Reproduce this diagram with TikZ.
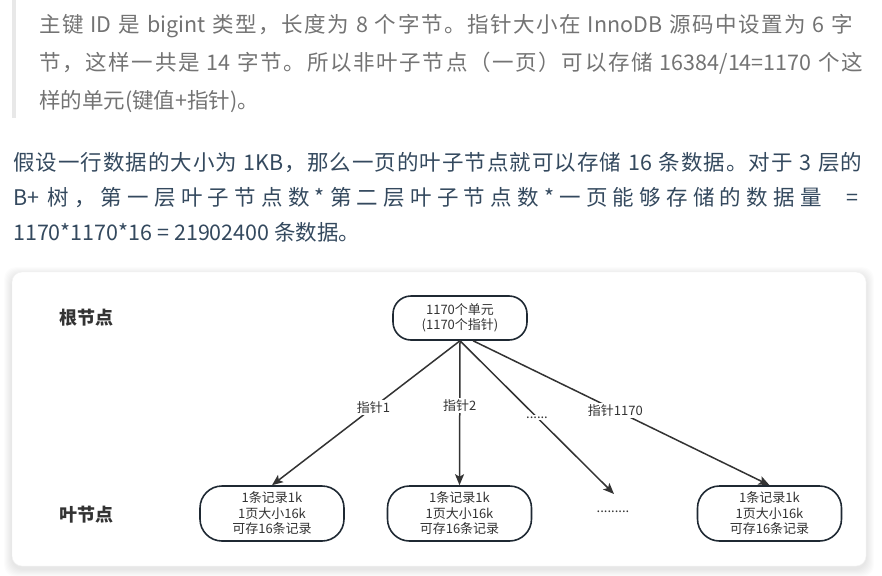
\documentclass[tikz,border=0pt]{standalone}
\usepackage{fontspec}
\setmainfont{Noto Sans CJK SC}
\usepackage{tikz}
\usetikzlibrary{arrows.meta, positioning}
\definecolor{QuoteGrey}{HTML}{737373}
\definecolor{QuoteBar}{HTML}{E8E8E8}
\definecolor{BodyInk}{HTML}{34495E}
\definecolor{LineInk}{HTML}{333333}
\definecolor{BoxInk}{HTML}{1F2933}
% stretchable glue between CJK characters, so that a row can be justified
\XeTeXinterchartokenstate=1
\newXeTeXintercharclass\cjkclass
\newcount\cjkcode
\cjkcode="4E00
\loop
  \XeTeXcharclass\cjkcode=\cjkclass
  \advance\cjkcode by 1
\ifnum\cjkcode<"9FA6 \repeat
\XeTeXcharclass"3002=\cjkclass
\XeTeXcharclass"FF0C=\cjkclass
\XeTeXcharclass"FF08=\cjkclass
\XeTeXcharclass"FF09=\cjkclass
\newcommand{\cjkglue}{\hskip 0pt plus 1pt\relax}
\XeTeXinterchartoks\cjkclass\cjkclass={\cjkglue}
\XeTeXinterchartoks 0 \cjkclass={\cjkglue}
\XeTeXinterchartoks\cjkclass 0 ={\cjkglue}
\newcommand{\textrow}[2]{\hbox to #1{\spaceskip=0.3em plus 0.3pt\relax #2}}

\begin{document}
\begin{tikzpicture}[x=1pt, y=-1pt,
    quotetext/.style={anchor=base west, inner sep=0pt, text=QuoteGrey, font=\fontsize{21.5}{21.5}\selectfont},
    bodytext/.style={anchor=base west, inner sep=0pt, text=BodyInk, font=\fontsize{21.5}{21.5}\selectfont},
    levellabel/.style={text=LineInk, font=\fontsize{18}{18}\selectfont\bfseries},
    rootbox/.style={draw=BoxInk, line width=1.6pt, rounded corners=18pt, fill=white, minimum width=134pt, minimum height=44pt, align=center, text=LineInk, inner sep=0pt, font=\fontsize{13}{15}\selectfont},
    leafbox/.style={rootbox, rounded corners=22pt, minimum width=144pt, minimum height=55pt, font=\fontsize{13}{15.5}\selectfont},
    pointer/.style={draw=LineInk, line width=1.5pt, -{Stealth[length=11pt, width=9pt, inset=2.5pt]}},
    pointerlabel/.style={fill=white, inner sep=1.5pt, text=LineInk, font=\fontsize{13}{13}\selectfont}]
    \useasboundingbox (0,0) rectangle (882,575);

    % Quoted paragraph
    \fill[QuoteBar] (12,0) rectangle (16,118);
    \node[quotetext] (q1) at (39,33) {\textrow{814pt}{主键 ID 是 bigint 类型，长度为 8 个字节。指针大小在 InnoDB 源码中设置为 6 字}};
    \node[quotetext] (q2) at (39,70.5) {\textrow{824pt}{节，这样一共是 14 字节。所以非叶子节点（一页）可以存储 16384/14=1170 个这}};
    \node[quotetext] (q3) at (39,108) {样的单元(键值+指针)。};

    % Body paragraph
    \node[bodytext] (p1) at (13,170) {\textrow{849pt}{假设一行数据的大小为 1KB，那么一页的叶子节点就可以存储 16 条数据。对于 3 层的}};
    \node[bodytext] (p2) at (13,205) {\textrow{845pt}{B+ 树，第一层叶子节点数*第二层叶子节点数*一页能够存储的数据量\hskip 14pt plus 2pt=}};
    \node[bodytext] (p3) at (13,240) {1170*1170*16 = 21902400 条数据。};

    % Card with soft shadow
    \foreach \s in {1,...,8}
        \fill[black, opacity=0.012, rounded corners=12pt] (12-\s,275-\s) rectangle (866+\s,569+\s);
    \fill[white, draw=black!5, rounded corners=10pt] (12,272) rectangle (866,566);

    % Level labels
    \node[levellabel] (rootlabel) at (86.5,318) {根节点};
    \node[levellabel] (leaflabel) at (86.5,515) {叶节点};

    % Root page
    \node[rootbox] (root) at (460,318) {1170个单元\\(1170个指针)};

    % Leaf pages
    \node[leafbox] (leaf1) at (272,513.5) {1条记录1k\\1页大小16k\\可存16条记录};
    \node[leafbox] (leaf2) at (459.5,513.5) {1条记录1k\\1页大小16k\\可存16条记录};
    \node[leafbox] (leaf3) at (769.5,513.5) {1条记录1k\\1页大小16k\\可存16条记录};
    \node[text=LineInk, font=\fontsize{13}{13}\selectfont] (leafgap) at (613,512) {.........};
    \coordinate (gapend) at (614,494);

    % Pointers
    \draw[pointer] (root.south) -- node[pointerlabel, pos=.46] (lp1) {指针1} (leaf1.north);
    \draw[pointer] (root.south) -- node[pointerlabel, pos=.445] (lp2) {指针2} (leaf2.north);
    \draw[pointer] (root.south) -- node[pointerlabel, pos=.5] (lp3) {......} (gapend);
    \draw[pointer] (root.300) -- node[pointerlabel, pos=.48] (lp4) {指针1170} (leaf3.north);
\end{tikzpicture}
\end{document}
